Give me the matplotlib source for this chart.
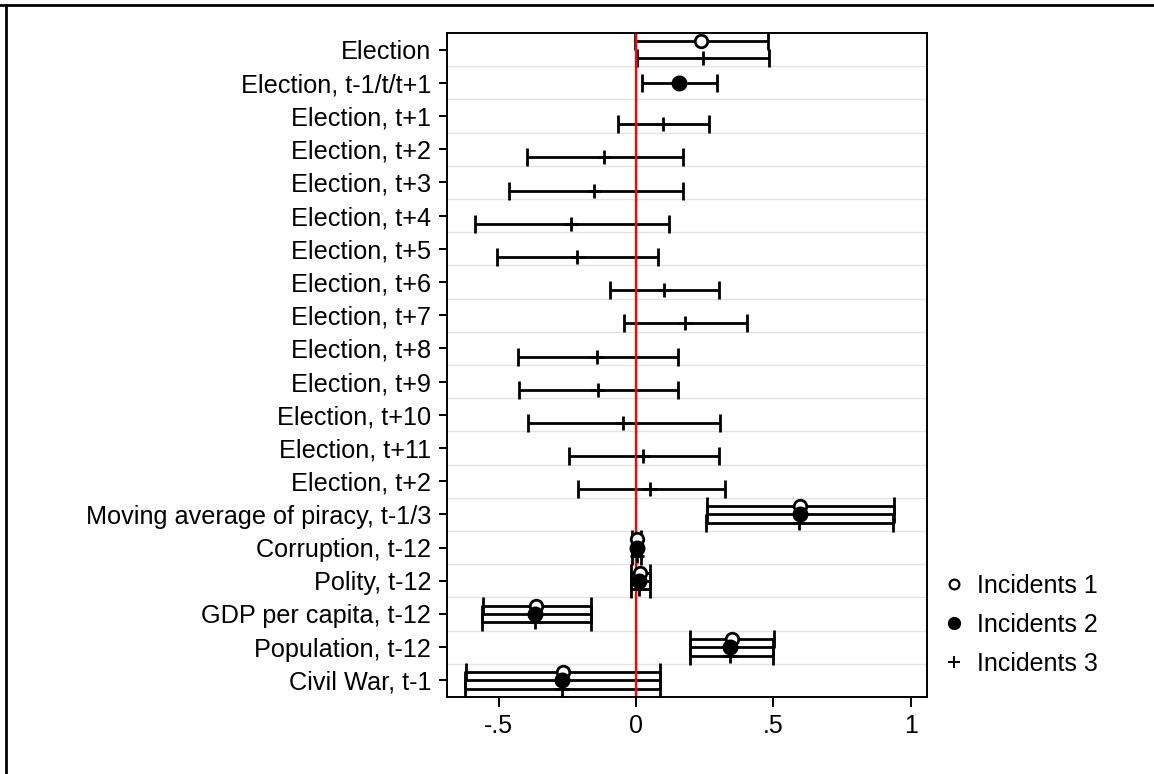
import matplotlib
matplotlib.use("Agg")
import matplotlib.pyplot as plt
import numpy as np
from matplotlib.lines import Line2D

plt.rcParams['font.family'] = ['Liberation Sans', 'DejaVu Sans']

labels = ["Election", "Election, t-1/t/t+1", "Election, t+1", "Election, t+2",
          "Election, t+3", "Election, t+4", "Election, t+5", "Election, t+6",
          "Election, t+7", "Election, t+8", "Election, t+9", "Election, t+10",
          "Election, t+11", "Election, t+2", "Moving average of piracy, t-1/3",
          "Corruption, t-12", "Polity, t-12", "GDP per capita, t-12",
          "Population, t-12", "Civil War, t-1"]

series_names = ["Incidents 1", "Incidents 2", "Incidents 3"]

# Incidents 1: row index, coefficient, lower, upper
s1_rows = [0, 14, 15, 16, 17, 18, 19]
s1_coef = [0.237, 0.597, 0.003, 0.014, -0.364, 0.348, -0.266]
s1_lo = [-0.004, 0.258, -0.013, -0.019, -0.558, 0.197, -0.620]
s1_hi = [0.482, 0.940, 0.019, 0.052, -0.164, 0.501, 0.087]

# Incidents 2
s2_rows = [1, 14, 15, 16, 17, 18, 19]
s2_coef = [0.155, 0.595, 0.002, 0.012, -0.366, 0.343, -0.268]
s2_lo = [0.023, 0.257, -0.013, -0.019, -0.559, 0.196, -0.621]
s2_hi = [0.295, 0.939, 0.018, 0.051, -0.165, 0.500, 0.086]

# Incidents 3
s3_rows = [0, 2, 3, 4, 5, 6, 7, 8, 9, 10, 11, 12, 13, 14, 15, 16, 17, 18, 19]
s3_coef = [0.243, 0.097, -0.115, -0.152, -0.237, -0.215, 0.101, 0.178, -0.142,
           -0.137, -0.047, 0.024, 0.051, 0.594, 0.002, 0.011, -0.366, 0.343, -0.268]
s3_lo = [0.005, -0.067, -0.396, -0.462, -0.587, -0.505, -0.095, -0.043, -0.430,
         -0.426, -0.393, -0.244, -0.210, 0.256, -0.013, -0.019, -0.559, 0.196, -0.621]
s3_hi = [0.485, 0.265, 0.172, 0.170, 0.120, 0.081, 0.303, 0.403, 0.154,
         0.154, 0.307, 0.303, 0.323, 0.937, 0.018, 0.051, -0.165, 0.500, 0.086]

xticks = [-0.5, 0, 0.5, 1]
xticklabels = ["-.5", "0", ".5", "1"]

W, H = 1154, 774
fig = plt.figure(figsize=(W / 100, H / 100), dpi=100)
ax = fig.add_axes([447 / W, 1 - 697 / H, (927 - 447) / W, (697 - 33) / H])

series = [
    (s1_rows, s1_coef, s1_lo, s1_hi, -0.25, dict(marker='o', mfc='white', mec='black', ms=9, mew=2)),
    (s2_rows, s2_coef, s2_lo, s2_hi, 0.0, dict(marker='o', mfc='black', mec='black', ms=10.5, mew=1)),
    (s3_rows, s3_coef, s3_lo, s3_hi, 0.25, dict(marker='+', mfc='black', mec='black', ms=9.5, mew=2)),
]

for rows, coef, lo, hi, off, mk in series:
    y = np.array(rows) + off
    c = np.array(coef)
    err = [c - np.array(lo), np.array(hi) - c]
    ax.errorbar(c, y, xerr=err, fmt='none', ecolor='black', elinewidth=2,
                capsize=6.5, capthick=2, zorder=2)

ax.axvline(0, color='red', lw=1.7, zorder=2.5)

for rows, coef, lo, hi, off, mk in series:
    y = np.array(rows) + off
    ax.plot(coef, y, linestyle='none', zorder=3, **mk)

ax.set_xlim(-0.688, 1.059)
ax.set_ylim(len(labels) - 0.5, -0.5)
ax.set_yticks(np.arange(len(labels)))
ax.set_yticklabels(labels, fontsize=18.2)
ax.set_yticks(np.arange(len(labels) - 1) + 0.5, minor=True)
ax.grid(True, which='minor', axis='y', color='#e3e3e3', lw=1)
ax.tick_params(axis='y', which='minor', length=0)
ax.tick_params(axis='y', which='major', length=5.5, width=1.4, pad=6)
ax.set_xticks(xticks)
ax.set_xticklabels(xticklabels, fontsize=18)
ax.tick_params(axis='x', length=7, width=1.4, pad=5)
for sp in ax.spines.values():
    sp.set_linewidth(1.4)

handles = [
    Line2D([], [], linestyle='none', marker='o', mfc='white', mec='black', ms=7, mew=1.6),
    Line2D([], [], linestyle='none', marker='o', mfc='black', mec='black', ms=8.5),
    Line2D([], [], linestyle='none', marker='+', mfc='black', mec='black', ms=8, mew=1.4),
]
fig.legend(handles, series_names, loc='center left', bbox_to_anchor=(941 / W, 1 - 625 / H),
           frameon=False, fontsize=18, handlelength=1.0, handletextpad=0.45,
           labelspacing=0.6, borderpad=0, borderaxespad=0)

fig.add_artist(Line2D([0, 1], [1 - 5 / H] * 2, transform=fig.transFigure, color='black', lw=2))
fig.add_artist(Line2D([6 / W] * 2, [0, 1 - 5 / H], transform=fig.transFigure, color='black', lw=2))

fig.savefig("out.png", dpi=100)
